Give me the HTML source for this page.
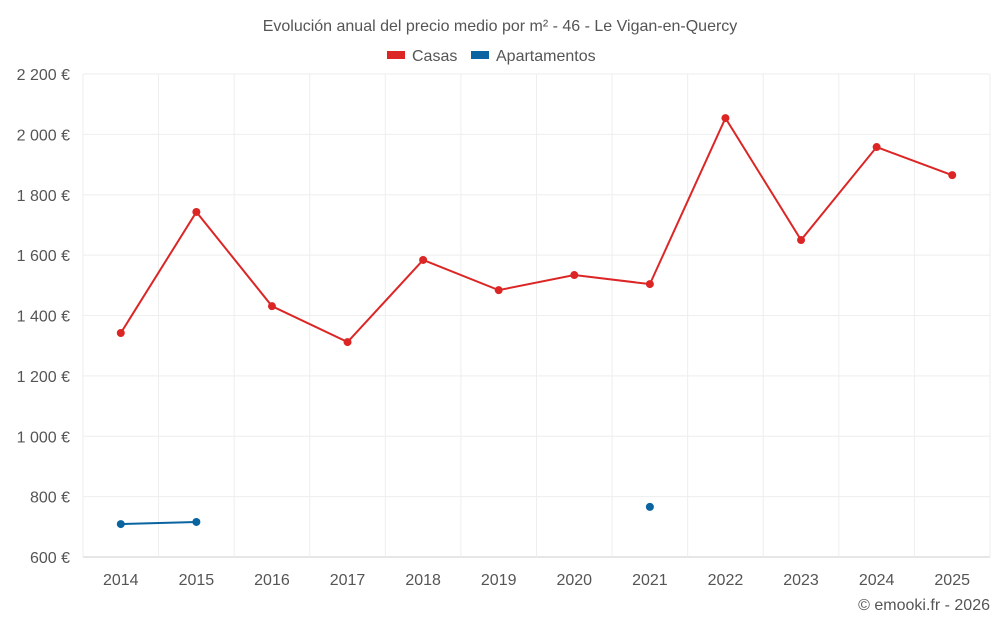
<!DOCTYPE html>
<html><head><meta charset="utf-8"><style>
body{margin:0;background:#fff;}
svg{display:block;font-family:"Liberation Sans",sans-serif;}
</style></head><body>
<svg id="chart" width="1000" height="625">
<text x="500" y="31" text-anchor="middle" font-size="16" fill="#555">Evolución anual del precio medio por m² - 46 - Le Vigan-en-Quercy</text>
<g>
<g><rect x="387" y="51" width="18" height="8" fill="#dc2626"/><text x="412" y="61" font-size="16" fill="#555">Casas</text></g>
<g><rect x="471" y="51" width="18" height="8" fill="#0a64a0"/><text x="496" y="61" font-size="16" fill="#555">Apartamentos</text></g>
</g>
<g id="grid"></g><g id="axes"></g><g id="series"></g>
<text x="990" y="610" text-anchor="end" font-size="16" fill="#555">© emooki.fr - 2026</text>
</svg>
<script>
const years=[2014,2015,2016,2017,2018,2019,2020,2021,2022,2023,2024,2025];
const casas=[1342,1743,1431,1312,1584,1484,1534,1504,2054,1650,1958,1865];
const apartamentos=[709,716,null,null,null,null,null,766,null,null,null,null];
const yTicks=[600,800,1000,1200,1400,1600,1800,2000,2200];
const yLabels=["600 €","800 €","1 000 €","1 200 €","1 400 €","1 600 €","1 800 €","2 000 €","2 200 €"];
const L=83,R=990,T=74,B=557,NS="http://www.w3.org/2000/svg";
const band=(R-L)/years.length;
const x=i=>L+band*(i+0.5);
const y=v=>B-(v-600)/(2200-600)*(B-T);
function mk(tag,a,p){const e=document.createElementNS(NS,tag);for(const k in a)e.setAttribute(k,a[k]);p.appendChild(e);return e;}
const g=document.getElementById('grid'),ax=document.getElementById('axes'),s=document.getElementById('series');
yTicks.forEach((t,i)=>{
 const l=mk('line',{x1:L,x2:R,y1:y(t),y2:y(t),stroke:i==0?'#ccc':'#eee'},g);
 
 
 const tx=mk('text',{x:70,y:y(t)+6,'text-anchor':'end','font-size':16,fill:'#555'},ax);tx.textContent=yLabels[i];
 
 
});
for(let i=0;i<=years.length;i++){
 const l=mk('line',{x1:L+band*i,x2:L+band*i,y1:T,y2:B+(i>0&&i<years.length?0:0),stroke:'#eee'},g);
 
 
}
years.forEach((yr,i)=>{
 const tx=mk('text',{x:x(i),y:585,'text-anchor':'middle','font-size':16,fill:'#555'},ax);tx.textContent=yr;
 
 
});
function draw(data,color,name){
 let seg=[];const segs=[];
 data.forEach((v,i)=>{if(v==null){if(seg.length)segs.push(seg);seg=[];}else seg.push([x(i),y(v)]);});
 if(seg.length)segs.push(seg);
 segs.forEach(sg=>{if(sg.length>1){const p=mk('polyline',{points:sg.map(q=>q.join(',')).join(' '),fill:'none',stroke:color,'stroke-width':2},s);
 
 }});
 data.forEach((v,i)=>{if(v==null)return;const c=mk('circle',{cx:x(i),cy:y(v),r:4,fill:color},s);
 
 });
}
draw(casas,'#dc2626','casas');
draw(apartamentos,'#0a64a0','apartamentos');
</script>
</body></html>
